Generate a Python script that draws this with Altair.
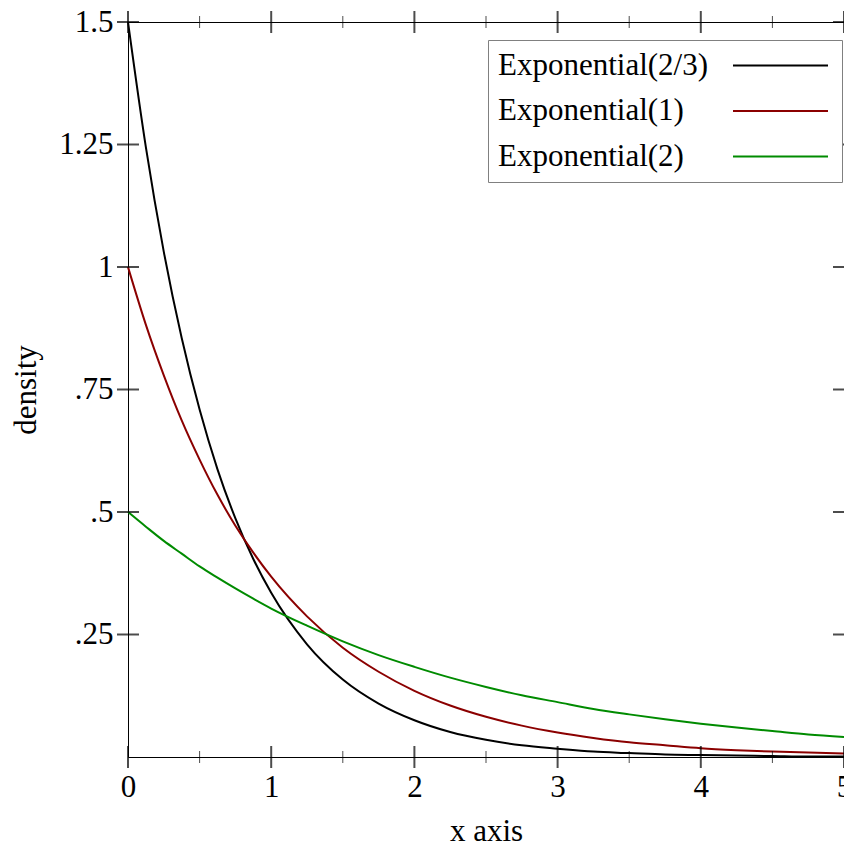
import altair as alt
import pandas as pd

# ---- data ----
xs = [0, 0.125, 0.25, 0.375, 0.5, 0.625, 0.75, 0.875, 1.0,
      1.25, 1.5, 1.75, 2.0, 2.25, 2.5, 2.75, 3.0, 3.25, 3.5, 3.75,
      4.0, 4.25, 4.5, 4.75, 5.0]
exp_two_thirds = [1.5, 1.244, 1.031, 0.855, 0.709, 0.587, 0.487, 0.404, 0.335,
                  0.230, 0.158, 0.109, 0.075, 0.051, 0.035, 0.024, 0.017, 0.011,
                  0.008, 0.005, 0.004, 0.003, 0.002, 0.001, 0.001]
exp_one = [1.0, 0.882, 0.779, 0.687, 0.607, 0.535, 0.472, 0.417, 0.368,
           0.287, 0.223, 0.174, 0.135, 0.105, 0.082, 0.064, 0.050, 0.039,
           0.030, 0.024, 0.018, 0.014, 0.011, 0.009, 0.007]
exp_two = [0.5, 0.470, 0.441, 0.415, 0.389, 0.366, 0.344, 0.323, 0.303,
           0.268, 0.236, 0.208, 0.184, 0.162, 0.143, 0.126, 0.112, 0.098,
           0.087, 0.077, 0.068, 0.060, 0.053, 0.046, 0.041]

series_names = ["Exponential(2/3)", "Exponential(1)", "Exponential(2)"]
series_colors = ["#000000", "#8b0000", "#008b00"]

x_major = [0, 1, 2, 3, 4, 5]
x_minor = [0.5, 1.5, 2.5, 3.5, 4.5]
y_major = [0.25, 0.5, 0.75, 1.0, 1.25, 1.5]
x_title = "x axis"
y_title = "density"

# ---- layout ----
W, H = 716, 735
FONT = "Liberation Serif"
FS = 31

rows = []
for name, vals in zip(series_names, [exp_two_thirds, exp_one, exp_two]):
    for x, v in zip(xs, vals):
        rows.append({"x": x, "density": v, "series": name})
df = pd.DataFrame(rows)

xscale = alt.Scale(domain=[0, 5], nice=False, zero=False)
yscale = alt.Scale(domain=[0, 1.5], nice=False, zero=False)

x_axis = alt.Axis(values=x_major, title=x_title, ticks=False, domain=False,
                  grid=False, labelFlush=False, labelOverlap=False,
                  labelPadding=15, titlePadding=14)
y_axis = alt.Axis(values=y_major, title=y_title, ticks=False, domain=False,
                  grid=False, labelFlush=False, labelOverlap=False,
                  labelPadding=15, titlePadding=16,
                  labelExpr="datum.value < 1 ? substring(format(datum.value, '~g'), 1) : format(datum.value, '~g')")

lines = alt.Chart(df).mark_line(strokeWidth=2, interpolate="monotone").encode(
    x=alt.X("x:Q", scale=xscale, axis=x_axis),
    y=alt.Y("density:Q", scale=yscale, axis=y_axis),
    color=alt.Color("series:N",
                    scale=alt.Scale(domain=series_names, range=series_colors),
                    sort=series_names,
                    legend=alt.Legend(title=None, orient="none", legendX=360, legendY=18,
                                      symbolType="M 43.9 0 L 62.9 0", symbolSize=100,
                                      symbolStrokeWidth=2, symbolFillColor="transparent",
                                      labelOffset={"expr": "-31"},
                                      labelFont=FONT, labelFontSize=FS, labelColor="black",
                                      labelLimit=500, labelBaseline="middle",
                                      strokeColor="#808080", fillColor="white",
                                      padding=10, rowPadding=13.5)),
)

xt_major = pd.DataFrame({"x": x_major})
xt_minor = pd.DataFrame({"x": x_minor})
yt = pd.DataFrame({"density": y_major})


def xticks(data, ypos, size, thick):
    return alt.Chart(data).mark_tick(orient="vertical", size=size, thickness=thick,
                                     color="black").encode(
        x=alt.X("x:Q", scale=xscale, axis=x_axis), y=alt.value(ypos))


def yticks(data, xpos, size, thick):
    return alt.Chart(data).mark_tick(orient="horizontal", size=size, thickness=thick,
                                     color="black").encode(
        y=alt.Y("density:Q", scale=yscale, axis=y_axis), x=alt.value(xpos))


chart = alt.layer(
    lines,
    xticks(xt_major, H, 22, 2), xticks(xt_major, 0, 22, 2),
    xticks(xt_minor, H, 12, 1), xticks(xt_minor, 0, 12, 1),
    yticks(yt, 0, 22, 2), yticks(yt, W, 22, 2),
).properties(
    width=W, height=H,
    autosize=alt.AutoSizeParams(type="none"),
    padding={"left": 120, "top": 14, "right": 0, "bottom": 85},
).configure_view(
    stroke="black", strokeWidth=1
).configure_axis(
    labelFont=FONT, titleFont=FONT, labelFontSize=FS, titleFontSize=FS,
    labelColor="black", titleColor="black", titleFontWeight="normal"
)

chart.save("out.html", embed_options={"renderer": "svg", "actions": False})
